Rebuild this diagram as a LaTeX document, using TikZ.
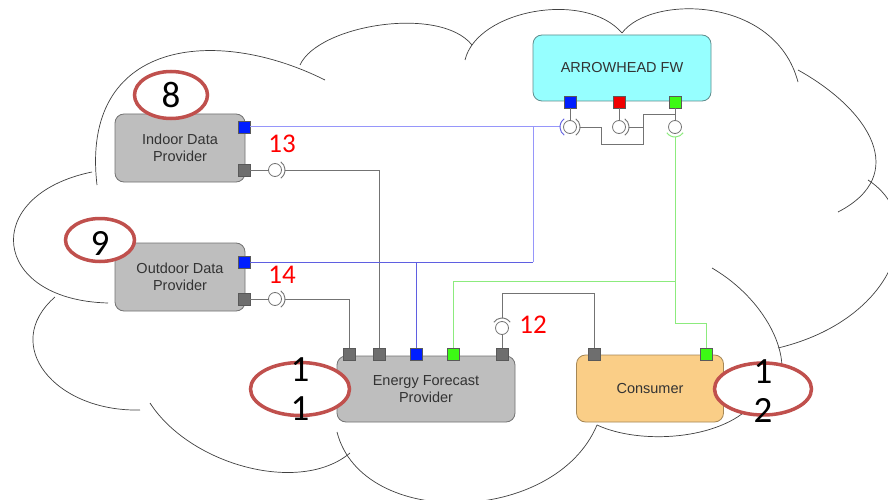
\documentclass[tikz,border=0pt]{standalone}
\usepackage{fontspec}
\setmainfont{Liberation Sans}
\newfontfamily\calibri{Carlito}
\usetikzlibrary{shapes.geometric}

\definecolor{boxgray}{RGB}{190,190,190}
\definecolor{fwcyan}{RGB}{150,255,255}
\definecolor{fwedge}{RGB}{95,140,140}
\definecolor{consorange}{RGB}{250,206,135}
\definecolor{consedge}{RGB}{165,135,85}
\definecolor{portblue}{RGB}{0,30,255}
\definecolor{portred}{RGB}{240,0,0}
\definecolor{portgreen}{RGB}{60,250,20}
\definecolor{portgray}{RGB}{110,110,110}
\definecolor{wireblue}{RGB}{150,150,250}
\definecolor{wirebluedark}{RGB}{95,95,225}
\definecolor{wiregreen}{RGB}{140,235,125}
\definecolor{tagred}{RGB}{192,80,77}

\tikzset{
  comp/.style={draw=black!55, line width=0.8pt, rounded corners=9pt, align=center,
    text=black!80, font=\fontsize{14.5}{17}\selectfont},
  port/.style={draw=black!65, line width=0.5pt, minimum size=12pt, inner sep=0pt},
  ball/.style={circle, draw=black!55, line width=0.8pt, fill=white, minimum size=13pt, inner sep=0pt},
  gwire/.style={draw=black!55, line width=0.9pt},
  bwire/.style={draw=wireblue, line width=1pt},
  bwiredark/.style={draw=wirebluedark, line width=0.9pt},
  grwire/.style={draw=wiregreen, line width=1pt},
  tag/.style={ellipse, draw=tagred, line width=3.5pt, fill=white, inner sep=0pt},
  bignum/.style={font=\calibri\fontsize{37}{39}\selectfont, align=center, inner sep=0pt},
  idnum/.style={text=red, font=\calibri\fontsize{27}{30}\selectfont, inner sep=0pt},
  cloudarc/.style={draw=black!75, line width=0.7pt}
}

\begin{document}
\begin{tikzpicture}[x=1pt, y=1pt]
  \useasboundingbox[fill=white] (0,0) rectangle (888,-500);

  % cloud
  \draw[cloudarc] (92,-172) .. controls (-20,-195) and (-10,-300) .. (108,-303);
  \draw[cloudarc] (55,-297) .. controls (0,-345) and (55,-412) .. (140,-410);
  \draw[cloudarc] (350,-453) .. controls (300,-495) and (190,-465) .. (150,-403);
  \draw[cloudarc] (597,-425) .. controls (555,-525) and (362,-530) .. (337,-432);
  \draw[cloudarc] (752,-405) .. controls (720,-440) and (640,-445) .. (597,-425);
  \draw[cloudarc] (712,-268) .. controls (775,-305) and (800,-375) .. (768,-398);
  \draw[cloudarc] (868,-180) .. controls (930,-220) and (895,-320) .. (778,-348);
  \draw[cloudarc] (798,-70) .. controls (870,-110) and (910,-175) .. (838,-212);
  \draw[cloudarc] (622,-33) .. controls (650,5) and (775,5) .. (798,-82);
  \draw[cloudarc] (465,-60) .. controls (477,-10) and (585,10) .. (622,-33);
  \draw[cloudarc] (300,-65) .. controls (318,-25) and (440,-5) .. (472,-45);
  \draw[cloudarc] (97,-185) .. controls (80,-40) and (215,-25) .. (325,-80);

  % components
  \node[comp, fill=boxgray, minimum width=130pt, minimum height=68pt] (indoor) at (180,-148) {Indoor Data\\Provider};
  \node[comp, fill=boxgray, minimum width=130pt, minimum height=68pt] (outdoor) at (180,-277) {Outdoor Data\\Provider};
  \node[comp, fill=fwcyan, draw=fwedge, minimum width=178pt, minimum height=66pt] (fw) at (622,-68) {ARROWHEAD FW};
  \node[comp, fill=boxgray, minimum width=178pt, minimum height=66pt] (efp) at (426,-389) {Energy Forecast\\Provider};
  \node[comp, fill=consorange, draw=consedge, minimum width=147pt, minimum height=67pt] (cons) at (650,-388.5) {Consumer};

  % ports
  \node[port, fill=portblue] (inB) at (244,-127) {};
  \node[port, fill=portgray] (inG) at (244,-170) {};
  \node[port, fill=portblue] (outB) at (244,-262) {};
  \node[port, fill=portgray] (outG) at (244,-299) {};
  \node[port, fill=portblue] (fwB) at (570,-102) {};
  \node[port, fill=portred] (fwR) at (619,-102) {};
  \node[port, fill=portgreen] (fwG) at (675,-102) {};
  \node[port, fill=portgray] (efp1) at (349,-354) {};
  \node[port, fill=portgray] (efp2) at (379,-354) {};
  \node[port, fill=portblue] (efpB) at (416,-354) {};
  \node[port, fill=portgreen] (efpG) at (453,-354) {};
  \node[port, fill=portgray] (efp5) at (502,-354) {};
  \node[port, fill=portgray] (conGr) at (594,-354) {};
  \node[port, fill=portgreen] (conG) at (706,-354) {};

  % provided / required interfaces
  \node[ball] (inBall) at (275,-170) {};
  \node[ball] (outBall) at (275,-299) {};
  \node[ball] (fbB) at (570,-127) {};
  \node[ball] (fbR) at (619,-127) {};
  \node[ball] (fbG) at (675,-127) {};
  \node[ball] (efBall) at (502,-328) {};
  \coordinate (inS) at (285,-170);
  \coordinate (outS) at (285,-299);
  \coordinate (fsB) at (560,-127);
  \coordinate (fsBr) at (580,-127);
  \coordinate (fsRr) at (629,-127);
  \coordinate (fsG) at (675,-137);
  \coordinate (efS) at (502,-318);
  \coordinate (bj) at (533,-127);
  \coordinate (gj) at (675,-281);

  \draw[gwire] (inG) -- (inBall);
  \draw[gwire] (inBall.center) ++(-55:10) arc (-55:55:10);
  \draw[gwire] (inS) -| (efp2);
  \draw[gwire] (outG) -- (outBall);
  \draw[gwire] (outBall.center) ++(-55:10) arc (-55:55:10);
  \draw[gwire] (outS) -| (efp1);

  \draw[bwire] (inB) -- (fsB);
  \draw[bwiredark] (fbB.center) ++(125:10) arc (125:235:10);
  \draw[bwire] (bj) -- (bj |- outB);
  \draw[bwiredark] (bj |- outB) -- (outB);
  \draw[bwiredark] (efpB) -- (efpB |- outB);

  \draw[gwire] (fwB) -- (fbB);
  \draw[gwire] (fwR) -- (fbR);
  \draw[gwire] (fwG) -- (fbG);
  \draw[gwire] (fbB.center) ++(-55:10) arc (-55:55:10);
  \draw[gwire] (fbR.center) ++(-55:10) arc (-55:55:10);
  \draw[gwire] (fsBr) -| (601,-144) -| (643,-114) -- (675,-114);
  \draw[gwire] (fsRr) -- (643,-127);

  \draw[grwire] (fbG.center) ++(215:10) arc (215:325:10);
  \draw[grwire] (fsG) -- ++(0,-186) -| (conG);
  \draw[grwire] (gj) -| (efpG);

  \draw[gwire] (efp5) -- (efBall);
  \draw[gwire] (efBall.center) ++(35:10) arc (35:145:10);
  \draw[gwire] (efS) -- ++(0,25) -| (conGr);

  % numbers
  \node[idnum] (n13) at (282,-144) {13};
  \node[idnum] (n14) at (282,-275) {14};
  \node[idnum] (n12) at (533,-325) {12};

  \node[tag, minimum width=73pt, minimum height=47pt] (t8) at (171,-95) {};
  \node[bignum] at (t8) {8};
  \node[tag, minimum width=69pt, minimum height=43pt] (t9) at (100,-240) {};
  \node[bignum] at ([yshift=-3pt]t9.center) {9};
  \node[tag, minimum width=99pt, minimum height=53pt] (t11) at (300,-389) {};
  \node[bignum] at (t11) {1\\1};
  \node[tag, minimum width=97pt, minimum height=52pt] (t12) at (763,-389) {};
  \node[bignum] at ([yshift=-2pt]t12.center) {1\\2};
\end{tikzpicture}
\end{document}
